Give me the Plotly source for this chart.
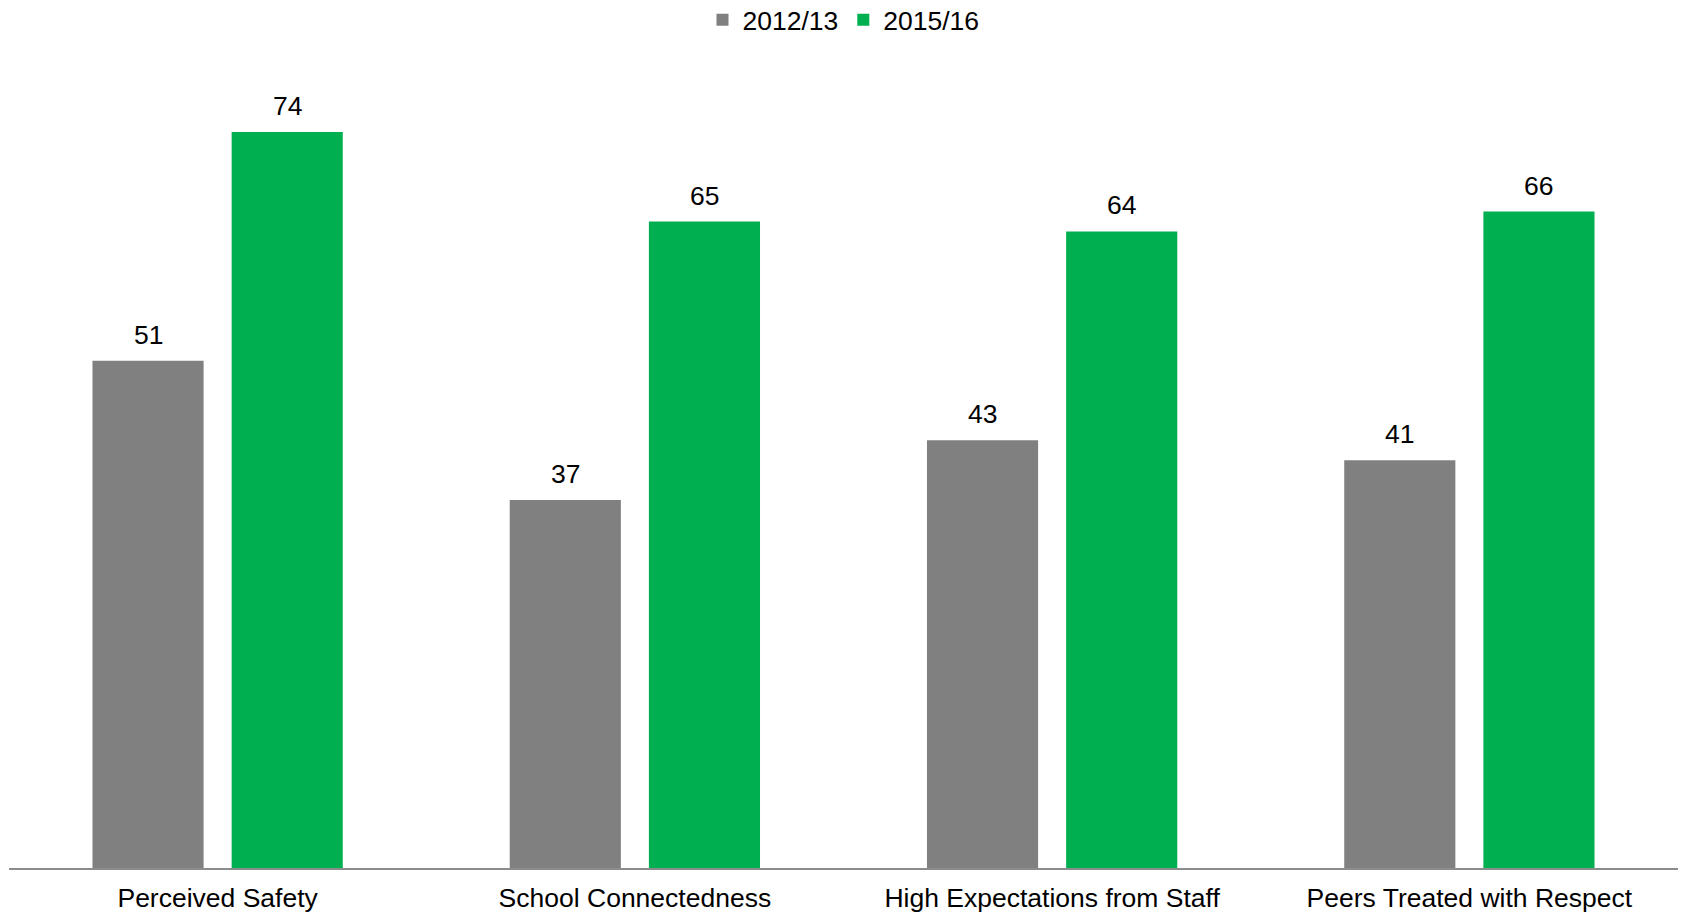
import plotly.graph_objects as go

categories = ["Perceived Safety", "School Connectedness", "High Expectations from Staff", "Peers Treated with Respect"]
series_names = ["2012/13", "2015/16"]
values_2012 = [51, 37, 43, 41]
values_2015 = [74, 65, 64, 66]

colors = ["#808080", "#00B050"]
FONT = "Liberation Sans, Arial, sans-serif"
FS = 26.5

fig = go.Figure()
for name, vals, col in zip(series_names, [values_2012, values_2015], colors):
    fig.add_trace(go.Bar(x=categories, y=vals, name=name, marker_color=col,
                         marker_line_width=0))

# value labels via annotations, offset to each bar in the group
shifts = [-69.5, 69.5]
for vals, sh in zip([values_2012, values_2015], shifts):
    for c, v in zip(categories, vals):
        fig.add_annotation(x=c, y=v, text=str(v), showarrow=False, xshift=sh,
                           yanchor="bottom", yshift=9,
                           font=dict(size=FS, color="#000000", family=FONT))

fig.update_layout(
    width=1681, height=915,
    paper_bgcolor="white", plot_bgcolor="white",
    margin=dict(l=9, r=3, t=45, b=47, autoexpand=False),
    barmode="group", bargap=0.333, bargroupgap=0.2014,
    font=dict(family=FONT, size=FS, color="#000000"),
    legend=dict(orientation="h", x=0.5, xanchor="center", y=1 - 20 / 915, yanchor="middle",
                yref="container", font=dict(size=FS), itemwidth=30,
                bgcolor="rgba(0,0,0,0)"),
    showlegend=True,
)
fig.update_xaxes(showline=True, linecolor="#8c8c8c", linewidth=2, ticks="",
                 ticklabelstandoff=5,
                 tickfont=dict(size=FS, family=FONT), showgrid=False)
fig.update_yaxes(range=[0, 82.75], visible=False, showgrid=False, zeroline=False)

fig.write_html("out.html", config={"displayModeBar": False},
               post_script="document.body.style.margin='0';")
